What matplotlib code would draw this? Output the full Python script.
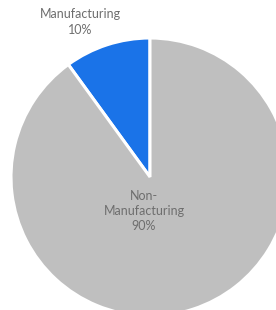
import matplotlib
matplotlib.use("Agg")
import matplotlib.pyplot as plt

categories = ["Manufacturing", "Non-Manufacturing"]
values = [10, 90]
colors = ["#1a73e8", "#bfbfbf"]

fig = plt.figure(figsize=(2.76, 3.10), dpi=100)
ax = fig.add_axes([0, 0, 1, 1])

cx, cy, r = 150, 133, 139
ax.pie(values, colors=colors, startangle=90, counterclock=True,
       center=(cx, cy), radius=r, frame=True,
       wedgeprops=dict(edgecolor="white", linewidth=2.2))
ax.set_xlim(0, 276)
ax.set_ylim(0, 310)
ax.set_aspect("equal")
ax.axis("off")

tc = "#6e6e6e"
fs = 9
ax.text(80.5, 288, f"{categories[0]}\n{values[0]}%", ha="center", va="center",
        color=tc, fontsize=fs, family="Lato", linespacing=1.35)
ax.text(144, 99, f"Non-\nManufacturing\n{values[1]}%", ha="center", va="center",
        color=tc, fontsize=fs, family="Lato", linespacing=1.35)

fig.savefig("out.png", dpi=100)
